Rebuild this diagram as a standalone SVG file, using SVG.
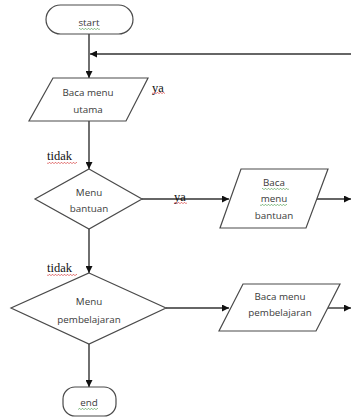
<svg xmlns="http://www.w3.org/2000/svg" width="351" height="417" viewBox="0 0 351 417">
<style>
.shape{fill:#fff;stroke:#4a4a4a;stroke-width:1.2}
.conn{fill:none;stroke:#333;stroke-width:1.4}
.t{font-family:"Open Sans","Noto Sans",sans-serif;font-size:9.8px;fill:#3a3a3a;text-anchor:middle}
.lbl{font-family:"Liberation Serif",serif;font-size:12.5px;fill:#111}
</style>
<defs>
<marker id="ah" viewBox="0 0 10 10" refX="10" refY="5" markerWidth="7" markerHeight="7" orient="auto" markerUnits="userSpaceOnUse"><path d="M0,0L10,5L0,10z" fill="#111"/></marker>
<pattern id="wr" width="3" height="2" patternUnits="userSpaceOnUse"><path d="M0,1.8L1.5,0.2L3,1.8" stroke="#d23030" fill="none" stroke-width="0.7"/></pattern>
<pattern id="wg" width="3" height="2" patternUnits="userSpaceOnUse"><path d="M0,1.8L1.5,0.2L3,1.8" stroke="#4a9a4a" fill="none" stroke-width="0.7"/></pattern>
</defs>
<rect width="351" height="417" fill="#fff"/>
<g id="connectors">
<path class="conn" d="M89,34V78" marker-end="url(#ah)"/>
<path class="conn" d="M351,54H90" marker-end="url(#ah)"/>
<path class="conn" d="M89,121V169" marker-end="url(#ah)"/>
<path class="conn" d="M142,199H229" marker-end="url(#ah)"/>
<path class="conn" d="M317,199H351" marker-end="url(#ah)"/>
<path class="conn" d="M89,229V273" marker-end="url(#ah)"/>
<path class="conn" d="M166,308H229" marker-end="url(#ah)"/>
<path class="conn" d="M328,308H351" marker-end="url(#ah)"/>
<path class="conn" d="M89,344V387" marker-end="url(#ah)"/>
<text class="lbl" x="152" y="92">ya</text>
<text class="lbl" x="47" y="160">tidak</text>
<text class="lbl" x="174" y="201">ya</text>
<text class="lbl" x="47" y="272">tidak</text>
<rect x="152" y="92" width="13" height="2" fill="url(#wr)"/>
<rect x="47" y="162" width="30" height="2" fill="url(#wr)"/>
<rect x="174" y="202" width="13" height="2" fill="url(#wr)"/>
<rect x="47" y="274" width="30" height="2" fill="url(#wr)"/>
</g>
<g id="start">
<rect class="shape" x="46" y="5" width="87" height="29" rx="14.5"/>
<text class="t" x="89" y="26">start</text>
<rect x="79" y="28" width="21" height="2" fill="url(#wg)"/>
</g>
<g id="baca-menu-utama">
<polygon class="shape" points="53,78 148,78 126,121 29,121"/>
<text class="t" x="88" y="96">Baca menu</text>
<text class="t" x="88" y="113">utama</text>
</g>
<g id="menu-bantuan">
<polygon class="shape" points="89,169 142,199 89,229 35,199"/>
<text class="t" x="89" y="196">Menu</text>
<text class="t" x="89" y="212">bantuan</text>
</g>
<g id="baca-menu-bantuan">
<polygon class="shape" points="241,169 328,169 306,228 220,228"/>
<text class="t" x="274" y="186">Baca</text>
<text class="t" x="274" y="202">menu</text>
<text class="t" x="274" y="219">bantuan</text>
<rect x="262" y="188" width="27" height="2" fill="url(#wg)"/>
<rect x="260" y="204" width="27" height="2" fill="url(#wg)"/>
</g>
<g id="menu-pembelajaran">
<polygon class="shape" points="89,273 166,308 89,344 11,308"/>
<text class="t" x="89" y="305">Menu</text>
<text class="t" x="89" y="323">pembelajaran</text>
</g>
<g id="baca-menu-pembelajaran">
<polygon class="shape" points="243,284 340,284 316,331 219,331"/>
<text class="t" x="280" y="300">Baca menu</text>
<text class="t" x="280" y="316">pembelajaran</text>
</g>
<g id="end">
<rect class="shape" x="63" y="387" width="53" height="29" rx="12"/>
<text class="t" x="89" y="406">end</text>
<rect x="78" y="408" width="20" height="2" fill="url(#wg)"/>
</g>
</svg>
